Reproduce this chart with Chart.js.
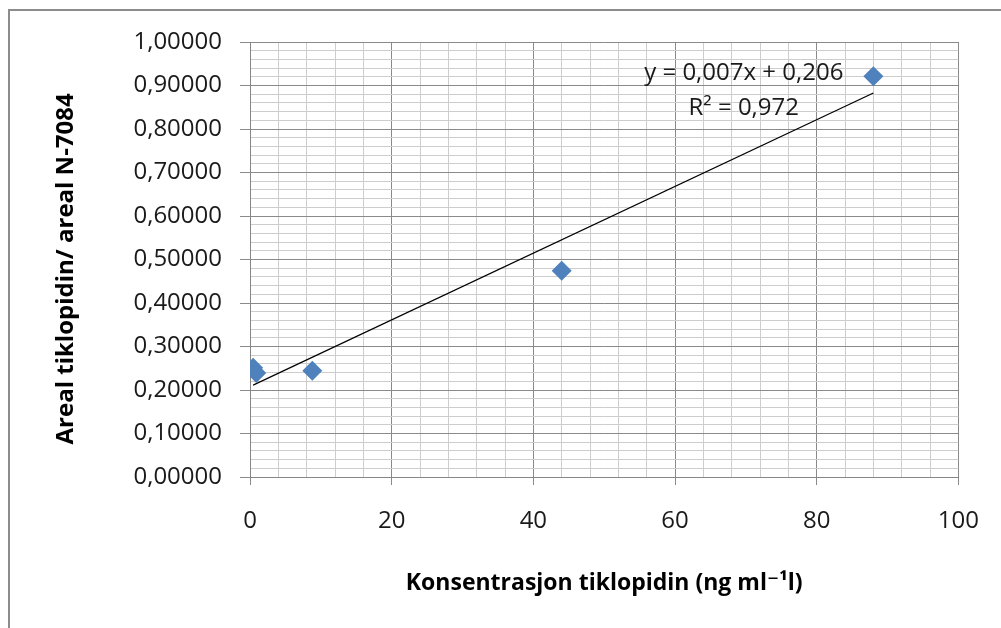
<!DOCTYPE html>
<html>
<head>
<meta charset="utf-8">
<script src="https://cdn.jsdelivr.net/npm/chart.js"></script>
<style>
  html, body { margin: 0; padding: 0; background: #fff; }
  #chart { display: block; }
</style>
</head>
<body>
<canvas id="chart" width="1001" height="628"></canvas>
<script>
// data
var konsentrasjon = [0.44, 0.88, 8.8, 44, 88];
var arealForhold = [0.251, 0.239, 0.244, 0.474, 0.921];

// labelled (major) ticks
var xTicks = [0, 20, 40, 60, 80, 100];
var yTicks = [0, 0.1, 0.2, 0.3, 0.4, 0.5, 0.6, 0.7, 0.8, 0.9, 1.0];

var xTitle = 'Konsentrasjon tiklopidin (ng ml\u207B\u00B9l)';
var yTitle = 'Areal tiklopidin/ areal N-7084   '; // trailing spaces nudge it down a bit
var ligning = 'y = 0,007x + 0,206';
var rKvadrat = 'R\u00B2 = 0,972';

var points = konsentrasjon.map(function(x, i){ return {x: x, y: arealForhold[i]}; });

// linear trend line (least squares) across the data range
var n = konsentrasjon.length, sx = 0, sy = 0, sxx = 0, sxy = 0;
for (var i = 0; i < n; i++) {
  sx += konsentrasjon[i]; sy += arealForhold[i];
  sxx += konsentrasjon[i] * konsentrasjon[i];
  sxy += konsentrasjon[i] * arealForhold[i];
}
var slope = (n * sxy - sx * sy) / (n * sxx - sx * sx);
var intercept = (sy - slope * sx) / n;
var xMin = Math.min.apply(null, konsentrasjon), xMax = Math.max.apply(null, konsentrasjon);
var trend = [{x: xMin, y: intercept + slope * xMin}, {x: xMax, y: intercept + slope * xMax}];

function isMajor(list, v) {
  return list.some(function(t){ return Math.abs(t - v) < 1e-6; });
}

var FONT = '"Open Sans", "DejaVu Sans", sans-serif';

var frame = {
  id: 'frame',
  beforeDraw: function(chart) {
    var c = chart.ctx;
    c.save();
    c.fillStyle = '#fff';
    c.fillRect(0, 0, chart.width, chart.height);
    c.strokeStyle = '#8c8c8c';
    c.lineWidth = 2;
    c.beginPath();
    c.moveTo(9, chart.height);
    c.lineTo(9, 10);
    c.lineTo(chart.width, 10);
    c.stroke();
    c.restore();
  },
  afterDatasetsDraw: function(chart) {
    var c = chart.ctx, xs = chart.scales.x, ys = chart.scales.y;
    c.save();
    c.fillStyle = '#1a1a1a';
    c.font = '24px ' + FONT;
    c.textAlign = 'center';
    c.textBaseline = 'middle';
    c.fillText(ligning, xs.getPixelForValue(69.7), ys.getPixelForValue(0.929));
    c.fillText(rKvadrat, xs.getPixelForValue(69.7), ys.getPixelForValue(0.849));
    c.restore();
  }
};

var ctx = document.getElementById('chart');
var myChart = new Chart(ctx, {
  type: 'scatter',
  data: {
    datasets: [{
      data: points,
      pointStyle: 'rectRot',
      pointRadius: 10,
      backgroundColor: '#4f81bd',
      borderColor: '#4f81bd',
      borderWidth: 0,
      order: 1
    }, {
      type: 'line',
      data: trend,
      borderColor: '#000',
      borderWidth: 1.2,
      pointRadius: 0,
      fill: false,
      order: 2
    }]
  },
  options: {
    responsive: false,
    animation: false,
    events: [],
    layout: { padding: { top: 42, right: 42, left: 0, bottom: 0 } },
    plugins: { legend: { display: false }, tooltip: { enabled: false } },
    scales: {
      x: {
        type: 'linear',
        min: 0, max: 100,
        afterFit: function(scale){ scale.height = 151; },
        ticks: {
          stepSize: 4,
          autoSkip: false,
          maxRotation: 0,
          padding: 22,
          color: '#1a1a1a',
          font: { family: FONT, size: 24 },
          callback: function(v){ return isMajor(xTicks, v) ? String(v) : ''; }
        },
        grid: {
          tickLength: 8,
          color: function(c){ return isMajor(xTicks, c.tick.value) ? '#8a8a8a' : '#cdcdcd'; },
          tickColor: function(c){ return isMajor(xTicks, c.tick.value) ? '#8a8a8a' : 'rgba(0,0,0,0)'; }
        },
        border: { color: '#868686' },
        title: {
          display: true,
          text: xTitle,
          color: '#000',
          font: { family: FONT, size: 23, weight: 'bold' },
          padding: { top: 0, bottom: 31 }
        }
      },
      y: {
        min: 0, max: 1,
        afterFit: function(scale){ scale.width = 250; },
        ticks: {
          stepSize: 0.02,
          autoSkip: false,
          padding: 18,
          color: '#1a1a1a',
          font: { family: FONT, size: 24 },
          callback: function(v){ return isMajor(yTicks, v) ? v.toFixed(5).replace('.', ',') : ''; }
        },
        grid: {
          tickLength: 10,
          color: function(c){ return isMajor(yTicks, c.tick.value) ? '#8a8a8a' : '#cdcdcd'; },
          tickColor: function(c){ return isMajor(yTicks, c.tick.value) ? '#8a8a8a' : 'rgba(0,0,0,0)'; }
        },
        border: { color: '#868686' },
        title: {
          display: true,
          text: yTitle,
          color: '#000',
          font: { family: FONT, size: 24, weight: 'bold' },
          padding: { top: 52, bottom: 0 }
        }
      }
    }
  },
  plugins: [frame]
});
</script>
</body>
</html>
